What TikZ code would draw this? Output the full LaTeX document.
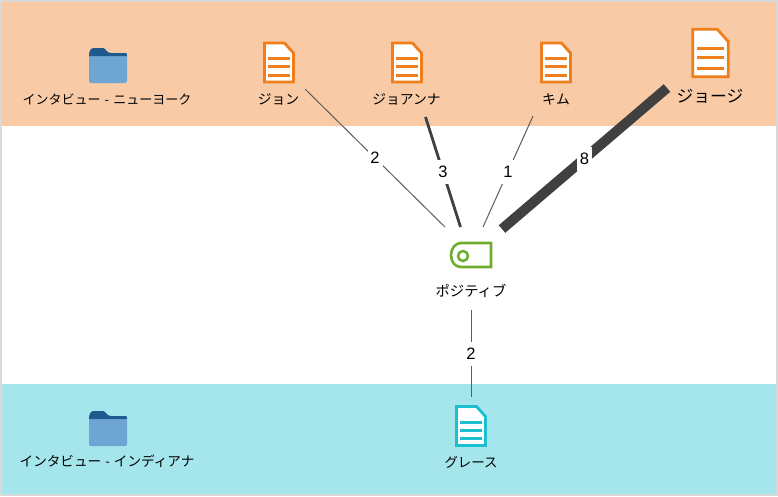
\documentclass[tikz,border=0pt]{standalone}
\usepackage{fontspec}
\setmainfont{Noto Sans CJK JP}
\newfontfamily\numfont{Liberation Sans}
\definecolor{bandorange}{HTML}{F8CBA6}
\definecolor{bandcyan}{HTML}{A5E5EC}
\definecolor{framegray}{HTML}{D9D9D9}
\definecolor{docorange}{HTML}{EE7F1A}
\definecolor{doccyan}{HTML}{1CBFCF}
\definecolor{tagreen}{HTML}{70AD2F}
\definecolor{folderdark}{HTML}{1F5A8C}
\definecolor{folderlight}{HTML}{6FA5D3}
\definecolor{linkgray}{HTML}{404040}
\tikzset{
  x=1pt,y=-1pt,
  lbl/.style={inner sep=0pt,font=\fontsize{13.8}{16}\selectfont,text=black},
  folderlbl/.style={inner sep=0pt,font=\fontsize{13}{16}\selectfont,text=black},
  folderlblb/.style={inner sep=0pt,font=\fontsize{13.6}{16}\selectfont,text=black},
  widelbl/.style={inner sep=0pt,font=\fontsize{14.3}{16}\selectfont,text=black},
  tightlbl/.style={inner sep=0pt,font=\fontsize{13.4}{16}\selectfont,text=black},
  biglbl/.style={inner sep=0pt,font=\fontsize{16.8}{20}\selectfont,text=black},
  num/.style={fill=white,inner sep=0pt,minimum width=15pt,minimum height=24pt,font=\numfont\fontsize{16.5}{18}\selectfont,text=black},
  link/.style={draw=linkgray,line width=#1},
  docicon/.pic={
    \filldraw[draw=#1,fill=white,line width=2.8pt,miter limit=10]
      (-14.5,-19.5) -- (5.5,-19.5) -- (14.5,-9.5) -- (14.5,19.5) -- (-14.5,19.5) -- cycle;
    \draw[#1,line width=3pt]
      (-11,-4) -- (11,-4) (-11,4) -- (11,4) (-11,12.5) -- (11,12.5);
  },
  foldericon/.pic={
    \fill[folderlight,rounded corners=2pt] (-19,-12) rectangle (19,18);
    \fill[folderlight] (-19,-12) rectangle (19,-6);
    \fill[folderdark] (-19,-9) .. controls (-19,-15) and (-17,-17) .. (-14,-17)
      -- (-5,-17) .. controls (-2,-17) and (-2,-12) .. (3,-12) -- (17.5,-12)
      .. controls (18.5,-12) and (19,-11.5) .. (19,-9) -- cycle;
  },
}
\begin{document}
\begin{tikzpicture}
\useasboundingbox (0,0) rectangle (778,496);
\fill[framegray] (0,0) rectangle (778,496);
\fill[white] (2,2) rectangle (776,494);
\fill[bandorange] (2,2) rectangle (776,125.5);
\fill[bandcyan] (2,384) rectangle (776,494);

% icons
\path (108,65) pic {foldericon};
\path (108,428) pic {foldericon};
\path (279,62.5) pic {docicon=docorange};
\path (407,62.5) pic {docicon=docorange};
\path (556,62.5) pic {docicon=docorange};
\path (710.5,53) pic[scale=1.22] {docicon=docorange};
\path (471,426) pic {docicon=doccyan};

% tag icon
\draw[tagreen,line width=2.6pt] (491,243) -- (461,243)
  .. controls (455,243) and (451,249) .. (451,255)
  .. controls (451,262) and (455,267) .. (461,267) -- (491,267) -- cycle;
\draw[tagreen,line width=2.5pt] (463,256) circle (5);

% labels
\node[folderlbl] (nyfolder) at (107,99) {インタビュー\hspace{4pt}-\hspace{4pt}ニューヨーク};
\node[folderlblb] (infolder) at (107,461) {インタビュー\hspace{4pt}-\hspace{4pt}インディアナ};
\node[lbl] (john) at (278.5,99) {ジョン};
\node[lbl] (joanna) at (406.5,99) {ジョアンナ};
\node[lbl] (kim) at (556,99) {キム};
\node[biglbl] (george) at (710,96) {ジョージ};
\node[widelbl] (positive) at (471,291) {ポジティブ};
\node[tightlbl] (grace) at (471,462) {グレース};

% connector ends
\coordinate (jA) at (305,89);
\coordinate (jB) at (445,227);
\coordinate (aA) at (425.5,117);
\coordinate (aB) at (460.5,227);
\coordinate (kA) at (533,116);
\coordinate (kB) at (483,227);
\coordinate (gA) at (667,88);
\coordinate (gB) at (502,229);
\coordinate (pA) at (471,310);
\coordinate (pB) at (471,397);

\draw[link=1pt,draw=linkgray!85] (jA) -- node[num] {2} (jB);
\draw[link=2.8pt] (aA) -- node[num] {3} (aB);
\draw[link=1pt,draw=linkgray!85] (kA) -- node[num] {1} (kB);
\draw[link=10pt] (gA) -- node[num] {8} (gB);
\draw[link=1pt,draw=linkgray!85] (pA) -- node[num] {2} (pB);
\end{tikzpicture}
\end{document}
